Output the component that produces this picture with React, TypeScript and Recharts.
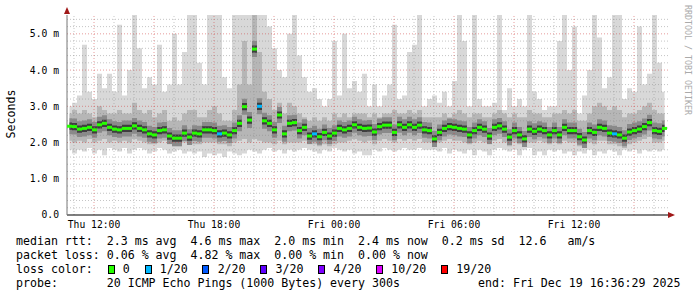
import React from 'react';
import { ComposedChart, Area, Line, XAxis, YAxis, ReferenceLine } from 'recharts';

// sample clock: hours since Thu 00:00, one sample every 15 min
const START_HOUR = 10.775;
const STEP_HOURS = 0.25;

// median rtt (ms)
const medianRtt = [
  2.45, 2.44, 2.37, 2.39, 2.42, 2.35, 2.49, 2.53, 2.42, 2.37, 2.35, 2.39, 2.39, 2.46, 2.39, 2.35, 2.24, 2.21, 2.33, 2.35, 2.18, 2.12, 2.12, 2.26, 2.15,
  2.26, 2.24, 2.35, 2.35, 2.33, 2.24, 2.26, 2.21, 2.33, 2.53, 2.99, 2.62, 4.58, 3.0, 2.6, 2.53, 2.35, 2.76, 2.24, 2.53, 2.55, 2.33, 2.42, 2.18,
  2.24, 2.16, 2.28, 2.18, 2.26, 2.39, 2.35, 2.39, 2.49, 2.42, 2.39, 2.4, 2.29, 2.44, 2.48, 2.48, 2.28, 2.49, 2.42, 2.49, 2.42, 2.48, 2.35, 2.33,
  2.1, 2.28, 2.39, 2.44, 2.42, 2.39, 2.37, 2.21, 2.33, 2.42, 2.37, 2.18, 2.42, 2.46, 2.37, 2.15, 2.33, 2.21, 2.1, 2.37, 2.31, 2.37, 2.33, 2.21,
  2.33, 2.21, 2.42, 2.33, 2.33, 2.16, 2.07, 2.33, 2.28, 2.42, 2.39, 2.26, 2.24, 2.21, 2.12, 2.29, 2.33, 2.37, 2.44, 2.55, 2.33, 2.31, 2.39,
];

// slowest ping of each round (ms)
const maxRtt = [
  3.0, 3.1, 3.3, 4.7, 3.4, 3.2, 3.9, 3.5, 3.9, 3.4, 5.25, 3.3, 4.0, 5.6, 4.6, 3.5, 3.8, 3.6, 4.7, 3.4, 3.6, 5.0, 3.6, 4.5, 5.6,
  5.6, 4.2, 3.6, 5.6, 5.6, 5.6, 3.8, 3.5, 5.6, 5.6, 5.6, 5.6, 5.6, 5.6, 5.6, 5.2, 4.6, 4.0, 3.8, 5.0, 5.6, 4.4, 3.8, 3.4,
  3.5, 3.2, 3.0, 3.2, 4.8, 3.3, 5.0, 3.5, 3.7, 3.4, 3.9, 3.0, 3.6, 3.0, 3.3, 3.6, 5.25, 3.2, 3.3, 4.5, 4.7, 5.6, 3.0, 3.2,
  3.3, 3.1, 3.4, 3.0, 3.7, 5.6, 4.8, 3.0, 5.6, 3.2, 3.0, 3.0, 3.1, 5.6, 2.9, 3.5, 3.0, 3.2, 3.0, 5.6, 3.4, 3.2, 2.9, 3.0,
  3.0, 4.8, 5.6, 4.0, 5.2, 2.8, 3.3, 4.0, 5.6, 4.9, 3.5, 3.8, 5.6, 5.6, 3.2, 3.5, 3.4, 5.2, 3.6, 3.9, 5.6, 4.2, 3.4,
];

// fastest ping of each round (ms)
const minRtt = [
  1.8, 1.7, 1.8, 1.75, 1.85, 1.7, 1.8, 1.65, 1.85, 1.8, 1.75, 1.85, 1.7, 1.8, 1.85, 1.8, 1.7, 1.75, 1.85, 1.8, 1.7, 1.75, 1.8, 1.7, 1.75,
  1.7, 1.75, 1.6, 1.7, 1.65, 1.7, 1.6, 1.75, 1.7, 1.65, 1.7, 1.8, 1.75, 1.7, 1.8, 1.85, 1.75, 1.8, 1.7, 1.8, 1.75, 1.8, 1.85, 1.8,
  1.75, 1.7, 1.8, 1.75, 1.85, 1.8, 1.75, 1.8, 1.7, 1.75, 1.65, 1.65, 1.8, 1.75, 1.85, 1.8, 1.75, 1.8, 1.85, 1.8, 1.8, 1.85, 1.8, 1.8,
  1.8, 1.75, 1.85, 1.7, 1.8, 1.75, 1.7, 1.8, 1.65, 1.8, 1.75, 1.65, 1.8, 1.85, 1.8, 1.75, 1.8, 1.65, 1.8, 1.85, 1.65, 1.75, 1.65, 1.8,
  1.75, 1.8, 1.7, 1.75, 1.65, 1.75, 1.7, 1.8, 1.65, 1.75, 1.7, 1.8, 1.75, 1.65, 1.8, 1.75, 1.8, 1.7, 1.8, 1.75, 1.8, 1.75, 1.8,
];

// dense part of the smoke, lower / upper edge (ms)
const smokeLow = [
  2.05, 2.0, 2.05, 2.0, 2.1, 2.0, 2.05, 2.1, 2.0, 2.05, 2.0, 2.05, 2.0, 2.1, 2.05, 2.0, 1.95, 1.95, 2.0, 2.05, 1.95, 1.9, 1.9, 2.0, 1.95,
  1.95, 1.95, 2.0, 2.0, 2.0, 1.95, 1.95, 1.9, 2.0, 2.05, 2.1, 2.0, 2.1, 2.05, 2.0, 2.0, 1.95, 2.05, 1.95, 2.0, 2.0, 2.0, 2.05, 1.95,
  1.95, 1.9, 1.95, 1.9, 1.95, 2.0, 2.0, 2.05, 2.1, 2.05, 2.0, 2.05, 1.95, 2.05, 2.1, 2.05, 2.0, 2.1, 2.05, 2.1, 2.05, 2.1, 2.0, 2.0,
  1.9, 2.0, 2.05, 2.1, 2.05, 2.05, 2.0, 1.95, 2.0, 2.05, 2.0, 1.95, 2.05, 2.1, 2.0, 1.9, 2.0, 1.95, 1.9, 2.0, 2.0, 2.05, 2.0, 1.95,
  2.0, 1.95, 2.05, 2.0, 2.0, 1.9, 1.85, 2.0, 1.95, 2.05, 2.05, 1.95, 1.95, 1.9, 1.85, 1.95, 2.0, 2.05, 2.1, 2.15, 2.0, 2.0, 2.05,
];
const smokeHigh = [
  2.8, 2.9, 2.8, 2.9, 2.8, 2.7, 3.0, 2.9, 2.8, 2.8, 2.9, 2.8, 2.8, 3.1, 2.9, 2.8, 2.9, 2.7, 2.8, 2.9, 2.6, 2.7, 2.6, 2.8, 2.9,
  2.9, 2.7, 2.7, 2.9, 3.0, 2.8, 2.6, 2.6, 2.9, 3.6, 4.8, 3.6, 5.6, 4.5, 3.4, 3.2, 2.9, 3.1, 2.8, 3.1, 3.0, 2.8, 2.7, 2.6,
  2.7, 2.6, 2.7, 2.6, 2.8, 2.7, 2.8, 2.7, 2.8, 2.8, 2.8, 2.7, 2.8, 2.7, 2.8, 2.8, 2.9, 2.8, 2.8, 2.9, 2.8, 2.9, 2.7, 2.7,
  2.7, 2.7, 2.8, 2.7, 2.8, 2.9, 2.8, 2.7, 2.8, 2.8, 2.7, 2.7, 2.8, 2.9, 2.8, 2.7, 2.8, 2.7, 2.7, 2.9, 2.8, 2.8, 2.7, 2.7,
  2.8, 2.8, 2.9, 2.8, 2.9, 2.6, 2.6, 2.8, 3.0, 3.1, 3.0, 2.9, 3.0, 2.9, 2.7, 2.8, 2.8, 2.9, 3.0, 3.1, 2.9, 2.8, 2.8,
];

// lost pings out of 20
const lostPings = [
  0, 0, 0, 0, 0, 0, 0, 0, 0, 0, 0, 0, 0, 0, 0, 0, 0, 0, 0, 0, 0, 0, 0, 0, 0,
  0, 0, 0, 0, 0, 1, 0, 0, 0, 0, 0, 0, 0, 1, 0, 0, 0, 0, 0, 0, 0, 0, 0, 0,
  1, 0, 0, 0, 0, 0, 0, 0, 0, 0, 0, 0, 0, 0, 0, 0, 0, 0, 0, 0, 0, 0, 0, 0,
  0, 0, 0, 0, 0, 0, 0, 0, 0, 0, 0, 0, 0, 0, 0, 0, 0, 0, 0, 0, 0, 0, 0, 0,
  0, 0, 0, 0, 0, 0, 0, 0, 0, 0, 0, 0, 1, 0, 0, 0, 0, 0, 0, 0, 0, 0, 0,
];

const timeTicks = [12, 18, 24, 30, 36];
const timeLabels = ['Thu 12:00', 'Thu 18:00', 'Fri 00:00', 'Fri 06:00', 'Fri 12:00'];
const rttTicks = [0, 1, 2, 3, 4, 5];
const rttLabels = ['0.0', '1.0 m', '2.0 m', '3.0 m', '4.0 m', '5.0 m'];

const lossLabels = ['0', '1/20', '2/20', '3/20', '4/20', '10/20', '19/20'];
const lossColors = ['#26ff00', '#00b8ff', '#0059ff', '#5e00ff', '#7e00ff', '#dd00ff', '#ff0000'];

const statLines = [
  'median rtt:  2.3 ms avg  4.6 ms max  2.0 ms min  2.4 ms now  0.2 ms sd  12.6   am/s',
  'packet loss: 0.06 % avg  4.82 % max  0.00 % min  0.00 % now',
];
const probeLine = 'probe:       20 ICMP Echo Pings (1000 Bytes) every 300s';
const endLine = 'end: Fri Dec 19 16:36:29 2025';

const rows = medianRtt.map((med, i) => ({
  t: START_HOUR + i * STEP_HOURS,
  med,
  lo: minRtt[i],
  hi: maxRtt[i],
  q1: smokeLow[i],
  q3: smokeHigh[i],
  loss: lostPings[i],
}));

// grid every 0.2 ms / 1 h, heavier every 1 ms / 3 h
const minorY = Array.from({ length: 27 }, (_, i) => (i + 1) * 0.2).filter((v) => Math.abs(v - Math.round(v)) > 0.01);
const majorY = [1, 2, 3, 4, 5];
const minorX = Array.from({ length: 30 }, (_, i) => 11 + i).filter((h) => h % 3 !== 0);
const majorX = [12, 15, 18, 21, 24, 27, 30, 33, 36, 39];

const MONO = '"DejaVu Sans Mono", monospace';
const MINOR = { stroke: '#8c8c8c', strokeOpacity: 0.5, strokeDasharray: '1 2' };
const MAJOR = { stroke: '#d03a3a', strokeOpacity: 0.5, strokeDasharray: '1 2' };

function lossColor(n: number) {
  if (n <= 0) return lossColors[0];
  if (n < 4) return lossColors[n];
  if (n < 10) return lossColors[4];
  if (n < 19) return lossColors[5];
  return lossColors[6];
}

const medianMark = (p: any) => (
  <rect key={`m${p.index}`} x={p.cx - 2.5} y={p.cy - 1.5} width={5} height={3} fill={lossColor(p.payload.loss)} />
);

export default function App() {
  return (
    <div style={{ position: 'absolute', left: 0, top: 0, width: 697, height: 297, background: '#fff' }}>
      <ComposedChart width={697} height={297} data={rows} margin={{ top: 15, right: 29, bottom: 62, left: 0 }}>
        <XAxis
          dataKey="t"
          type="number"
          domain={[10.65, 40.7]}
          allowDataOverflow
          ticks={timeTicks}
          tickFormatter={(v) => timeLabels[timeTicks.indexOf(v)]}
          tickLine={false}
          tickSize={0}
          tickMargin={6}
          height={20}
          axisLine={{ stroke: '#000' }}
          tick={{ fontFamily: MONO, fontSize: 9.7, fill: '#000' }}
        />
        <YAxis
          type="number"
          domain={[0, 5.52]}
          allowDataOverflow
          ticks={rttTicks}
          tickFormatter={(v) => rttLabels[rttTicks.indexOf(v)]}
          tickLine={false}
          tickSize={0}
          tickMargin={8}
          width={67}
          axisLine={{ stroke: '#777' }}
          tick={{ fontFamily: MONO, fontSize: 9.7, fill: '#000' }}
        />
        <Area type="step" dataKey={(d: any) => [d.lo, d.hi]} fill="#d8d8d8" fillOpacity={1} stroke="none" isAnimationActive={false} />
        <Area type="step" dataKey={(d: any) => [d.q1, d.q3]} fill="#b6b6b6" fillOpacity={1} stroke="none" isAnimationActive={false} />
        <Area type="step" dataKey={(d: any) => [d.med - 0.22, d.med + 0.22]} fill="#8a8a8a" fillOpacity={1} stroke="none" isAnimationActive={false} />
        <Area type="step" dataKey={(d: any) => [d.med - 0.1, d.med + 0.1]} fill="#3e3e3e" fillOpacity={1} stroke="none" isAnimationActive={false} />
        {minorY.map((v) => (
          <ReferenceLine key={`hy${v}`} y={v} {...MINOR} />
        ))}
        {minorX.map((h) => (
          <ReferenceLine key={`hx${h}`} x={h} {...MINOR} />
        ))}
        {majorY.map((v) => (
          <ReferenceLine key={`my${v}`} y={v} {...MAJOR} />
        ))}
        {majorX.map((h) => (
          <ReferenceLine key={`mx${h}`} x={h} {...MAJOR} />
        ))}
        <Line dataKey="med" stroke="none" dot={medianMark} activeDot={false} isAnimationActive={false} />
      </ComposedChart>

      <svg width={697} height={297} style={{ position: 'absolute', left: 0, top: 0, pointerEvents: 'none' }}>
        <polygon points="67,7 64,14 70,14" fill="#a01818" />
        <polygon points="675,215 668,212 668,218" fill="#a01818" />
        <text
          transform="translate(15,114) rotate(-90)"
          textAnchor="middle"
          fontFamily={MONO}
          fontSize={11.6}
          fill="#000"
        >
          Seconds
        </text>
        <text transform="translate(685,5) rotate(90)" fontFamily={MONO} fontSize={8.3} fill="#aaa">
          RRDTOOL / TOBI OETIKER
        </text>
      </svg>

      <div style={{ position: 'absolute', left: 16, top: 234, fontFamily: MONO, fontSize: 11.6, lineHeight: '14px', whiteSpace: 'pre', color: '#000' }}>
        <div>{statLines[0]}</div>
        <div>{statLines[1]}</div>
        <div style={{ display: 'flex', alignItems: 'center' }}>
          <span>loss color:</span>
          {lossLabels.map((label, i) => (
            <React.Fragment key={label}>
              <span
                style={{
                  display: 'inline-block',
                  marginLeft: 14.8,
                  width: 5,
                  height: 7,
                  border: '1px solid #000',
                  background: lossColors[i],
                }}
              />
              <span style={{ marginLeft: 8.2 }}>{label}</span>
            </React.Fragment>
          ))}
        </div>
        <div>{probeLine}</div>
      </div>
      <div style={{ position: 'absolute', left: 478, top: 276, fontFamily: MONO, fontSize: 11.6, lineHeight: '14px', whiteSpace: 'pre', color: '#000' }}>
        {endLine}
      </div>
    </div>
  );
}
